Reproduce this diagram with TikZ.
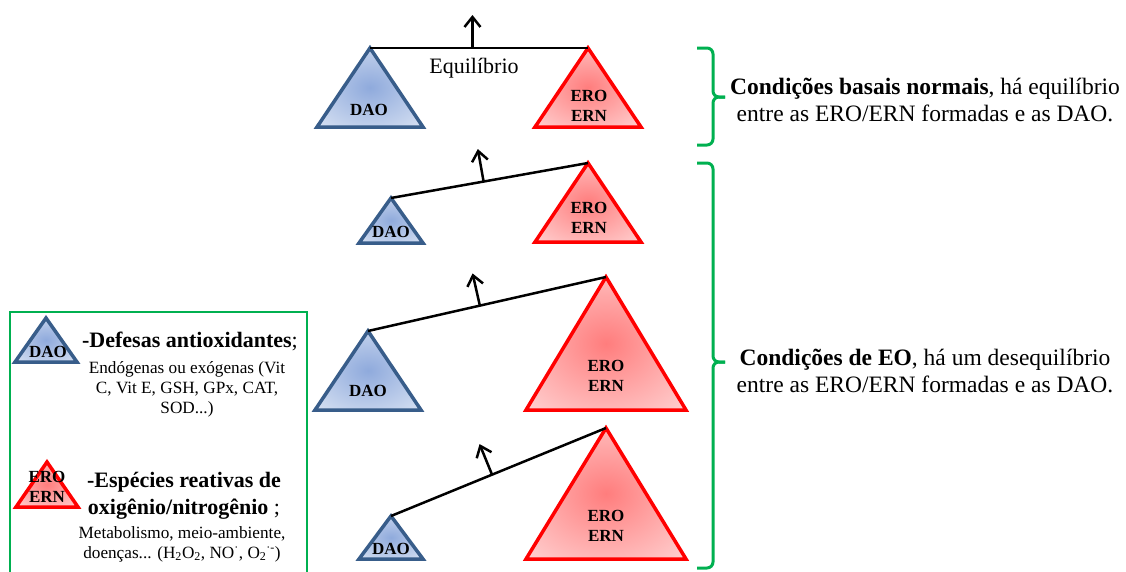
\documentclass[tikz,border=0pt]{standalone}
\usepackage{fontspec}
\setmainfont{Liberation Serif}
\usetikzlibrary{calc}
\usetikzlibrary{arrows.meta}
\definecolor{azulborda}{RGB}{56,93,138}
\definecolor{azulcentro}{RGB}{143,170,220}
\definecolor{azulfora}{RGB}{220,229,244}
\definecolor{vermcentro}{RGB}{255,125,125}
\definecolor{vermfora}{RGB}{255,215,215}
\definecolor{verde}{RGB}{0,176,80}
\pgfdeclareradialshading{daoshade}{\pgfpointorigin}{color(0bp)=(azulcentro); color(38bp)=(azulfora); color(50bp)=(azulfora)}
\pgfdeclareradialshading{eroshade}{\pgfpointorigin}{color(0bp)=(vermcentro); color(38bp)=(vermfora); color(50bp)=(vermfora)}
\tikzstyle{dao} = [draw=azulborda, line width=3.5pt, line join=miter, shading=daoshade]
\tikzstyle{ero} = [draw=red, line width=3.5pt, line join=miter, shading=eroshade]
\tikzstyle{rotulo} = [font=\bfseries\fontsize{17}{20}\selectfont, align=center, inner sep=0pt]
\tikzstyle{travessa} = [line width=2.5pt, black]
\tikzstyle{seta} = [line width=2.5pt, ->]
\tikzstyle{chave} = [draw=verde, line width=3pt, rounded corners=6pt]
\tikzstyle{caixa} = [draw=verde, line width=2.5pt]
\tikzstyle{texto} = [font=\fontsize{23.5}{27}\selectfont, align=center, inner sep=0pt]
\tikzstyle{titulo} = [font=\fontsize{22}{27}\selectfont, align=center, inner sep=0pt]
\tikzstyle{corpo} = [font=\fontsize{17.2}{20}\selectfont, align=center, inner sep=0pt]
\tikzset{>={Straight Barb[length=10pt,width=16pt]}}
\newcommand{\prato}[5]{ %
  % Triangle with apex #2 (named #1), half base #3, height #4, style #5.
  \coordinate (#1) at #2; %
  \path[#5] (#1) -- ++(-#3,#4) -- ++(2*#3,0) -- cycle; %
}
\newcommand{\balanca}[2]{ %
  % Beam between apexes #1 and #2, with the arrow on it.
  \draw[travessa] (#1) -- (#2); %
  \coordinate (m-#1) at ($(#1)!0.47!(#2)$); %
  \draw[seta] (m-#1) -- ($(m-#1)!33pt!90:(#2)$); %
}
\begin{document}
\begin{tikzpicture}[x=1pt, y=-1pt]
  \useasboundingbox (0,0) rectangle (1126,571);

  % equilibrio
  \prato{dao1}{(370,48)}{53}{79}{dao}
  \prato{ero1}{(588,48)}{53}{79}{ero}
  \balanca{dao1}{ero1}
  \node[font=\fontsize{22}{27}\selectfont] (equil) at (474,68) {Equilíbrio};
  \node[rotulo] (t-dao1) at (369,110) {DAO};
  \node[rotulo] (t-ero1) at (589,106) {ERO\\ERN};

  % desequilibrio 1
  \prato{dao2}{(391,198)}{32}{45}{dao}
  \prato{ero2}{(588,163)}{53}{79}{ero}
  \balanca{dao2}{ero2}
  \node[rotulo] (t-dao2) at (391,232) {DAO};
  \node[rotulo] (t-ero2) at (589,218) {ERO\\ERN};

  % desequilibrio 2
  \prato{dao3}{(368,331)}{53}{79}{dao}
  \prato{ero3}{(606,277)}{80}{133}{ero}
  \balanca{dao3}{ero3}
  \node[rotulo] (t-dao3) at (368,391) {DAO};
  \node[rotulo] (t-ero3) at (606,376) {ERO\\ERN};

  % desequilibrio 3
  \prato{dao4}{(391,516)}{32}{43}{dao}
  \prato{ero4}{(606,428)}{80}{131}{ero}
  \balanca{dao4}{ero4}
  \node[rotulo] (t-dao4) at (391,549) {DAO};
  \node[rotulo] (t-ero4) at (606,526) {ERO\\ERN};

  % chaves e textos
  \draw[chave] (697,48) -| (713,97) -- (725,97);
  \draw[chave] (697,145) -| (713,97) -- (725,97);
  \draw[chave] (697,163) -| (713,362) -- (725,362);
  \draw[chave] (697,568) -| (713,362) -- (725,362);
  \node[texto] (basal) at (925,100) {\textbf{Condições basais normais}, há equilíbrio\\entre as ERO/ERN formadas e as DAO.};
  \node[texto] (eo) at (925,371) {\textbf{Condições de EO}, há um desequilíbrio\\entre as ERO/ERN formadas e as DAO.};

  % legenda
  \draw[caixa] (10,312) rectangle (307,585);
  \prato{dao-leg}{(46,318)}{31}{44}{dao}
  \prato{ero-leg}{(47,462)}{31}{45}{ero}
  \node[rotulo] (t-dao-leg) at (48,352) {DAO};
  \node[rotulo] (t-ero-leg) at (47,487) {ERO\\ERN};
  \node[titulo] (def) at (190,341) {\textbf{-Defesas antioxidantes};};
  \node[corpo] (def-txt) at (187,389) {Endógenas ou exógenas (Vit\\C, Vit E, GSH, GPx, CAT,\\SOD...)};
  \node[titulo] (esp) at (184,496) {\textbf{-Espécies reativas de}\\\textbf{oxigênio/nitrogênio} ;};
  \node[corpo] (esp-txt) at (182,544) {Metabolismo, meio-ambiente,\\doenças... (H\textsubscript{2}O\textsubscript{2}, NO\textsuperscript{·}, O\textsubscript{2}\textsuperscript{·-})};
\end{tikzpicture}
\end{document}
